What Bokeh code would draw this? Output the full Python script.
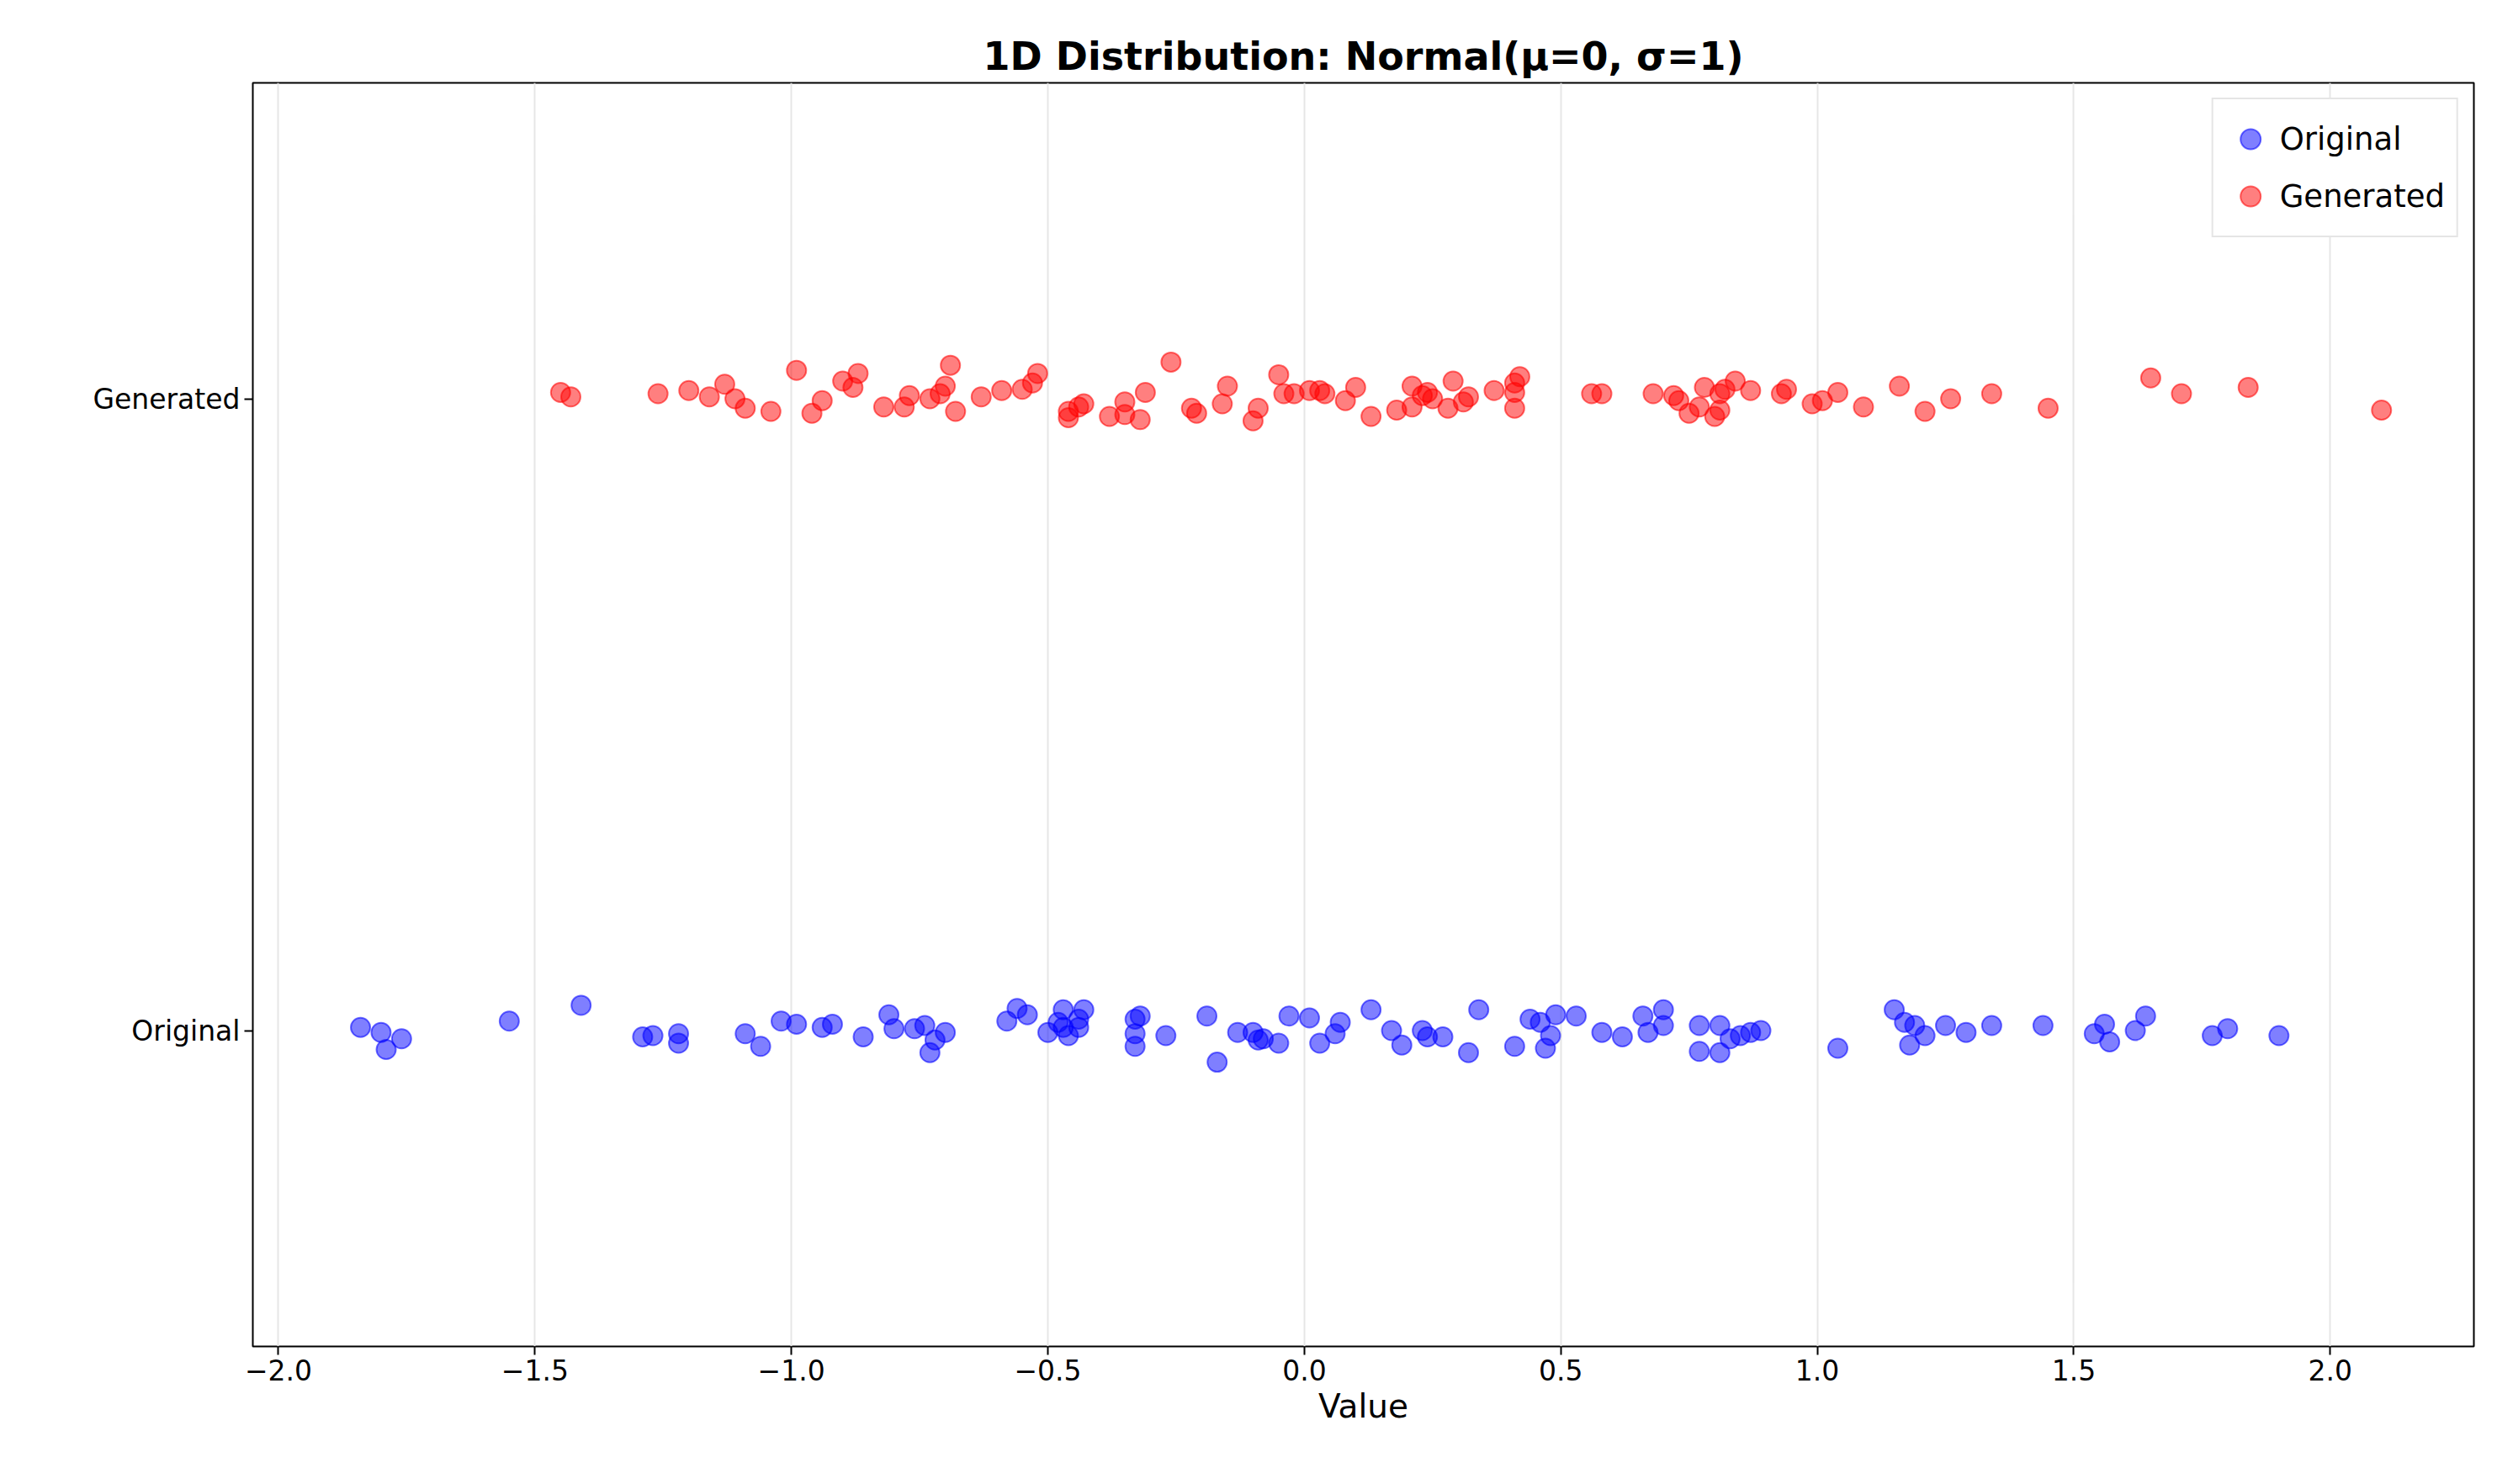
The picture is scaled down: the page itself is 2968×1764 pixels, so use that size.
from bokeh.plotting import figure
from bokeh.models import FixedTicker, Legend, LegendItem
from bokeh.embed import file_html
from bokeh.resources import INLINE

# values
gen_x = [-1.45, -1.43, -1.26, -1.20, -1.16, -1.13, -1.11, -1.09, -1.04, -0.99,
         -0.96, -0.94, -0.90, -0.88, -0.87, -0.82, -0.78, -0.77, -0.73, -0.71,
         -0.70, -0.69, -0.68, -0.63, -0.59, -0.55, -0.53, -0.52, -0.46, -0.46,
         -0.44, -0.43, -0.38, -0.35, -0.35, -0.32, -0.31, -0.26, -0.22, -0.21,
         -0.16, -0.15, -0.10, -0.09, -0.05, -0.04, -0.02, 0.01, 0.03, 0.04,
         0.08, 0.10, 0.13, 0.18, 0.21, 0.21, 0.23, 0.24, 0.25, 0.28,
         0.29, 0.31, 0.32, 0.37, 0.41, 0.41, 0.41, 0.42, 0.56, 0.58,
         0.68, 0.72, 0.73, 0.75, 0.77, 0.78, 0.80, 0.81, 0.81, 0.82,
         0.84, 0.87, 0.93, 0.94, 0.99, 1.01, 1.04, 1.09, 1.16, 1.21,
         1.26, 1.34, 1.45, 1.65, 1.71, 1.84, 2.10]
gen_jit = [0.010, 0.003, 0.008, 0.013, 0.003, 0.023, 0.0, -0.015, -0.020, 0.045,
           -0.023, -0.003, 0.028, 0.018, 0.040, -0.013, -0.013, 0.005, 0.0, 0.008,
           0.020, 0.053, -0.020, 0.003, 0.013, 0.015, 0.025, 0.040, -0.030, -0.020,
           -0.013, -0.008, -0.028, -0.005, -0.025, -0.033, 0.010, 0.058, -0.015, -0.023,
           -0.008, 0.020, -0.035, -0.015, 0.038, 0.008, 0.008, 0.013, 0.013, 0.008,
           -0.003, 0.018, -0.028, -0.018, 0.020, -0.013, 0.005, 0.010, 0.0, -0.015,
           0.028, -0.005, 0.003, 0.013, -0.015, 0.025, 0.010, 0.035, 0.008, 0.008,
           0.008, 0.005, -0.003, -0.023, -0.013, 0.018, -0.028, -0.018, 0.008, 0.015,
           0.028, 0.013, 0.008, 0.015, -0.008, -0.003, 0.010, -0.013, 0.020, -0.020,
           0.0, 0.008, -0.015, 0.033, 0.008, 0.018, -0.018]

orig_x = [-1.84, -1.80, -1.79, -1.76, -1.55, -1.41, -1.29, -1.27, -1.22, -1.22,
          -1.09, -1.06, -1.02, -0.99, -0.94, -0.92, -0.86, -0.81, -0.80, -0.76,
          -0.74, -0.73, -0.72, -0.70, -0.58, -0.56, -0.54, -0.50, -0.48, -0.47,
          -0.47, -0.46, -0.44, -0.44, -0.43, -0.33, -0.33, -0.33, -0.32, -0.27,
          -0.19, -0.17, -0.13, -0.10, -0.09, -0.08, -0.05, -0.03, 0.01, 0.03,
          0.06, 0.07, 0.13, 0.17, 0.19, 0.23, 0.24, 0.27, 0.32, 0.34,
          0.41, 0.44, 0.46, 0.47, 0.48, 0.49, 0.53, 0.58, 0.62, 0.66,
          0.67, 0.70, 0.70, 0.77, 0.77, 0.81, 0.81, 0.83, 0.85, 0.87,
          0.89, 1.04, 1.15, 1.17, 1.18, 1.19, 1.21, 1.25, 1.29, 1.34,
          1.44, 1.54, 1.56, 1.57, 1.62, 1.64, 1.77, 1.80, 1.90]
orig_jit = [0.005, -0.003, -0.030, -0.013, 0.015, 0.040, -0.010, -0.008, -0.005, -0.020,
            -0.005, -0.025, 0.015, 0.010, 0.005, 0.010, -0.010, 0.025, 0.003, 0.003,
            0.008, -0.035, -0.015, -0.003, 0.015, 0.035, 0.025, -0.003, 0.013, 0.033,
            0.005, -0.008, 0.018, 0.005, 0.033, 0.018, -0.005, -0.025, 0.023, -0.008,
            0.023, -0.050, -0.003, -0.003, -0.015, -0.013, -0.020, 0.023, 0.020, -0.020,
            -0.005, 0.013, 0.033, 0.0, -0.023, 0.0, -0.010, -0.010, -0.035, 0.033,
            -0.025, 0.018, 0.013, -0.028, -0.008, 0.025, 0.023, -0.003, -0.010, 0.023,
            -0.003, 0.033, 0.008, 0.008, -0.033, 0.008, -0.035, -0.013, -0.008, -0.003,
            0.0, -0.028, 0.033, 0.013, -0.023, 0.008, -0.008, 0.008, -0.003, 0.008,
            0.008, -0.005, 0.010, -0.018, 0.0, 0.023, -0.008, 0.003, -0.008]

row_labels = {0: "Original", 1: "Generated"}
x_ticks = [-2.0, -1.5, -1.0, -0.5, 0.0, 0.5, 1.0, 1.5, 2.0]

p = figure(width=2958, height=1750, frame_width=2640, frame_height=1502,
           min_border_left=300, min_border_top=98, min_border_right=18, min_border_bottom=150,
           x_range=(-2.05, 2.28), y_range=(-0.5, 1.5),
           output_backend="svg", toolbar_location=None,
           title="1D Distribution: Normal(μ=0, σ=1)")
p.title.text_font = "DejaVu Sans"
p.title.text_font_size = "46px"
p.title.text_font_style = "bold"
p.title.text_color = "black"
p.title.align = "center"

p.outline_line_color = "black"
p.outline_line_width = 2
p.ygrid.grid_line_color = None
p.xgrid.grid_line_color = "#e6e6e6"
p.xgrid.grid_line_width = 2
p.xgrid.ticker = FixedTicker(ticks=x_ticks)

p.xaxis.ticker = FixedTicker(ticks=x_ticks)
p.xaxis.major_label_overrides = {t: ("−" if t < 0 else "") + f"{abs(t):.1f}" for t in x_ticks}
p.yaxis.ticker = FixedTicker(ticks=[0, 1])
p.yaxis.major_label_overrides = row_labels
p.xaxis.axis_label = "Value"
for ax in (p.xaxis, p.yaxis):
    ax.major_label_text_font = "DejaVu Sans"
    ax.major_label_text_font_size = "33px"
    ax.major_label_text_color = "black"
    ax.axis_label_text_font = "DejaVu Sans"
    ax.axis_label_text_font_size = "39px"
    ax.axis_label_text_font_style = "normal"
    ax.axis_label_text_color = "black"
    ax.axis_line_color = None
    ax.major_tick_line_color = "black"
    ax.major_tick_line_width = 2
    ax.major_tick_out = 10
    ax.major_tick_in = 0
    ax.minor_tick_line_color = None

r_orig = p.scatter(orig_x, [0 + j for j in orig_jit], size=23,
                   fill_color="blue", fill_alpha=0.5, line_color="blue", line_alpha=0.55, line_width=2)
r_gen = p.scatter(gen_x, [1 + j for j in gen_jit], size=23,
                  fill_color="red", fill_alpha=0.5, line_color="red", line_alpha=0.55, line_width=2)

legend = Legend(items=[LegendItem(label="Original", renderers=[r_orig]),
                       LegendItem(label="Generated", renderers=[r_gen])],
                location="top_right")
legend.label_text_font = "DejaVu Sans"
legend.label_text_font_size = "37px"
legend.label_text_color = "black"
legend.border_line_color = "#cccccc"
legend.border_line_width = 2
legend.glyph_width = 60
legend.glyph_height = 66
legend.label_height = 66
legend.padding = 14
legend.spacing = 2
legend.margin = 18
p.add_layout(legend)

open("out.html", "w").write(file_html(p, INLINE))
